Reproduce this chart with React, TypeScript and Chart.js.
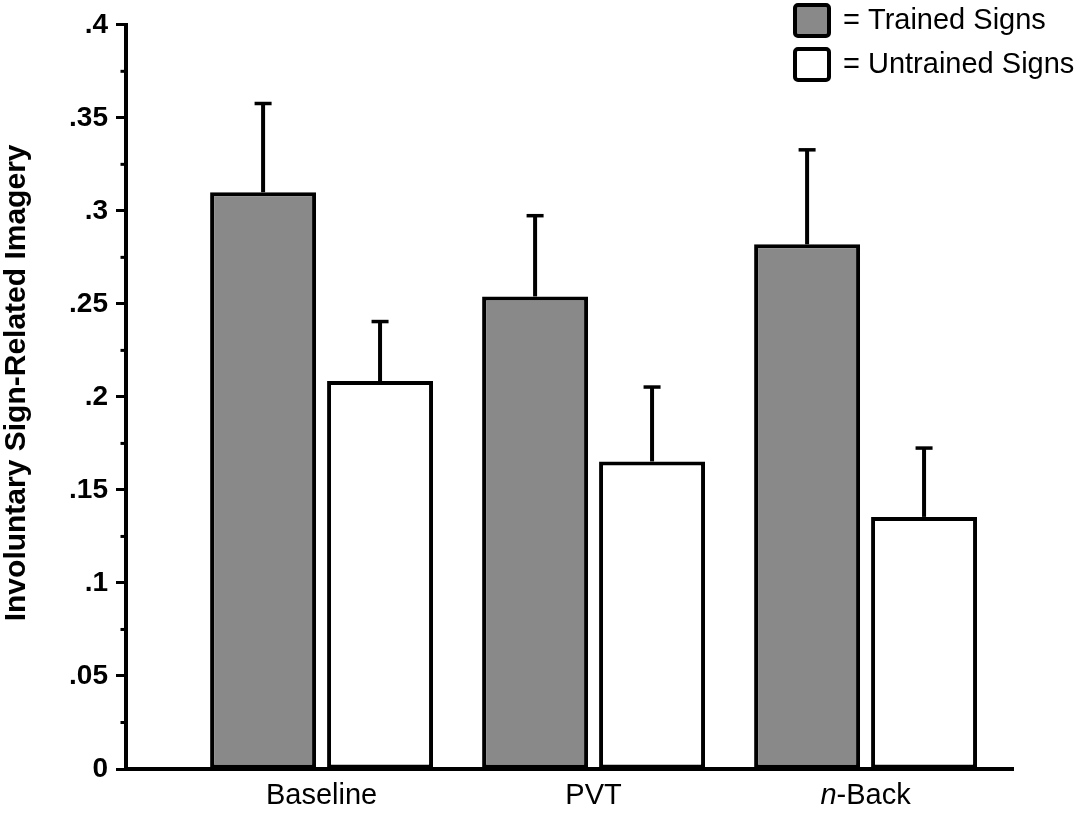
import React, { useEffect, useRef } from "react";
import { Chart, registerables } from "chart.js";

Chart.register(...registerables);

const FONT = "'Liberation Sans', Arial, Helvetica, sans-serif";

// ---- data ----
const categories = ["Baseline", "PVT", "n-Back"];
const seriesLabels = ["Trained Signs", "Untrained Signs"];
const trainedMeans = [0.31, 0.254, 0.282];
const untrainedMeans = [0.2085, 0.1653, 0.1355];
const trainedErrors = [0.0477, 0.0434, 0.0508];
const untrainedErrors = [0.032, 0.040, 0.037];
const yTickValues = [0, 0.05, 0.1, 0.15, 0.2, 0.25, 0.3, 0.35, 0.4];
const yMinorTickValues = [0.025, 0.075, 0.125, 0.175, 0.225, 0.275, 0.325, 0.375];
const yAxisTitle = "Involuntary Sign-Related Imagery";

const seriesMeans = [trainedMeans, untrainedMeans];
const seriesErrors = [trainedErrors, untrainedErrors];
const seriesColors = ["#898989", "#ffffff"];

function formatTick(v: number): string {
  if (v === 0) return "0";
  return Number(v.toFixed(3)).toString().replace(/^0\./, ".");
}

const errorBarPlugin = {
  id: "errorBars",
  afterDatasetsDraw(chart: any) {
    const ctx = chart.ctx;
    const yScale = chart.scales.y;
    ctx.save();
    ctx.strokeStyle = "#000";
    chart.data.datasets.forEach((ds: any, di: number) => {
      const meta = chart.getDatasetMeta(di);
      meta.data.forEach((el: any, i: number) => {
        const top = yScale.getPixelForValue(seriesMeans[di][i] + seriesErrors[di][i]);
        ctx.lineWidth = 4;
        ctx.beginPath();
        ctx.moveTo(el.x, el.y);
        ctx.lineTo(el.x, top);
        ctx.stroke();
        ctx.lineWidth = 3.5;
        ctx.beginPath();
        ctx.moveTo(el.x - 8.5, top);
        ctx.lineTo(el.x + 8.5, top);
        ctx.stroke();
      });
    });
    ctx.restore();
  },
};

const minorTickPlugin = {
  id: "minorTicks",
  afterDraw(chart: any) {
    const ctx = chart.ctx;
    const yScale = chart.scales.y;
    const x = chart.chartArea.left;
    ctx.save();
    ctx.strokeStyle = "#000";
    ctx.lineWidth = 3;
    yMinorTickValues.forEach((v) => {
      const y = yScale.getPixelForValue(v);
      ctx.beginPath();
      ctx.moveTo(x - 5.5, y);
      ctx.lineTo(x, y);
      ctx.stroke();
    });
    ctx.restore();
  },
};

const xLabelPlugin = {
  id: "xLabels",
  afterDraw(chart: any) {
    const ctx = chart.ctx;
    const xScale = chart.scales.x;
    const baseY = chart.chartArea.bottom + 35;
    ctx.save();
    ctx.fillStyle = "#000";
    ctx.textBaseline = "alphabetic";
    ctx.textAlign = "left";
    categories.forEach((label, i) => {
      const cx = xScale.getPixelForValue(i);
      const m = label.match(/^(n)(-.*)$/);
      if (m) {
        ctx.font = `italic 29px ${FONT}`;
        const w1 = ctx.measureText(m[1]).width;
        ctx.font = `29px ${FONT}`;
        const w2 = ctx.measureText(m[2]).width;
        const start = cx - (w1 + w2) / 2;
        ctx.font = `italic 29px ${FONT}`;
        ctx.fillText(m[1], start, baseY);
        ctx.font = `29px ${FONT}`;
        ctx.fillText(m[2], start + w1, baseY);
      } else {
        ctx.font = `29px ${FONT}`;
        const w = ctx.measureText(label).width;
        ctx.fillText(label, cx - w / 2, baseY);
      }
    });
    ctx.restore();
  },
};

const yTitlePlugin = {
  id: "yTitle",
  afterDraw(chart: any) {
    const ctx = chart.ctx;
    const { top, bottom } = chart.chartArea;
    ctx.save();
    ctx.translate(25, (top + bottom) / 2 - 14);
    ctx.rotate(-Math.PI / 2);
    ctx.font = `bold 30px ${FONT}`;
    ctx.fillStyle = "#000";
    ctx.textAlign = "center";
    ctx.textBaseline = "alphabetic";
    ctx.fillText(yAxisTitle, 0, 0);
    ctx.restore();
  },
};

const legendPlugin = {
  id: "customLegend",
  afterDraw(chart: any) {
    const ctx = chart.ctx;
    const x0 = chart.width - 291;
    ctx.save();
    chart.data.datasets.forEach((ds: any, i: number) => {
      const y0 = 3 + i * 44;
      ctx.beginPath();
      ctx.roundRect(x0 + 2, y0 + 2, 34, 31, 3);
      ctx.fillStyle = ds.backgroundColor;
      ctx.fill();
      ctx.lineWidth = 4;
      ctx.strokeStyle = "#000";
      ctx.stroke();
      ctx.font = `29px ${FONT}`;
      ctx.fillStyle = "#000";
      ctx.textAlign = "left";
      ctx.textBaseline = "middle";
      ctx.fillText("= " + ds.label, x0 + 50, y0 + 18);
    });
    ctx.restore();
  },
};

export default function App() {
  const canvasRef = useRef<HTMLCanvasElement | null>(null);

  useEffect(() => {
    if (!canvasRef.current) return;
    const chart = new Chart(canvasRef.current, {
      type: "bar",
      data: {
        datasets: seriesLabels.map((label, si) => ({
          label,
          data: categories.map((_, i) => ({ x: i, y: seriesMeans[si][i] })),
          backgroundColor: seriesColors[si],
          borderColor: "#000",
          borderWidth: 4,
          borderSkipped: false,
          categoryPercentage: 0.86,
          barPercentage: 0.906,
        })),
      },
      options: {
        animation: false,
        responsive: true,
        maintainAspectRatio: false,
        events: [],
        layout: { padding: { top: 21, right: 71, bottom: 0, left: 0 } },
        plugins: {
          legend: { display: false },
          tooltip: { enabled: false },
        },
        scales: {
          x: {
            type: "linear",
            bounds: "data",
            offset: false,
            min: -0.719,
            max: 2.542,
            afterBuildTicks: (s: any) => {
              s.ticks = categories.map((_, i) => ({ value: i }));
            },
            grid: { display: false, offset: false },
            ticks: { display: false },
            border: { display: true, width: 4, color: "#000", z: 1 },
            afterFit: (s: any) => {
              s.height = 47;
            },
          },
          y: {
            min: 0,
            max: 0.4,
            afterBuildTicks: (s: any) => {
              s.ticks = yTickValues.map((v) => ({ value: v }));
            },
            grid: {
              display: true,
              drawOnChartArea: false,
              drawTicks: true,
              tickLength: 10,
              tickWidth: 3,
              tickColor: "#000",
            },
            border: { display: true, width: 4, color: "#000", z: 1 },
            ticks: {
              autoSkip: false,
              color: "#000",
              padding: 8,
              font: { family: FONT, size: 28, weight: "bold" },
              callback: (v: any) => formatTick(Number(v)),
            },
            afterFit: (s: any) => {
              s.width = 126;
            },
          },
        },
      },
      plugins: [errorBarPlugin, minorTickPlugin, xLabelPlugin, yTitlePlugin, legendPlugin],
    } as any);
    return () => chart.destroy();
  }, []);

  return (
    <div
      style={{
        position: "fixed",
        left: 0,
        top: 0,
        width: 1084,
        height: 816,
        background: "#fff",
      }}
    >
      <canvas ref={canvasRef} />
    </div>
  );
}
